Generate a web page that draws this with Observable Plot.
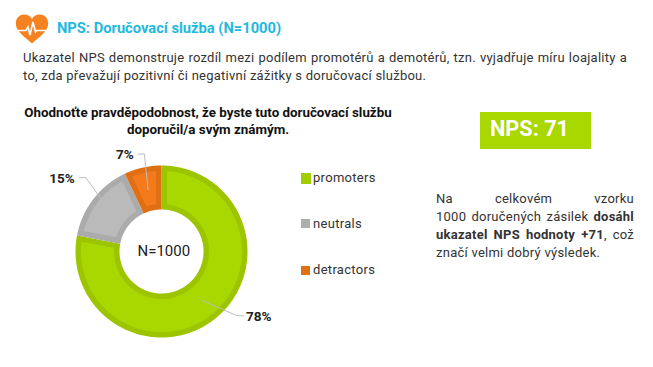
<!DOCTYPE html>
<html><head><meta charset="utf-8">
<script src="https://cdn.jsdelivr.net/npm/d3@7"></script>
<script src="https://cdn.jsdelivr.net/npm/@observablehq/plot@0.6"></script>
<style>
html,body{margin:0;padding:0;background:#fff;width:653px;height:367px;overflow:hidden;font-family:Roboto,sans-serif;color:#333}
.a{position:absolute}
#chart{left:0;top:0}
#chart svg{display:block}
.para{font-size:13px;line-height:18px;letter-spacing:.25px}
.para .l{display:block;white-space:nowrap;text-align:justify;text-align-last:justify}
.para .e{display:block;white-space:nowrap;text-align:left}
</style></head><body>
<div id="chart" class="a"></div>
<svg class="a" style="left:15px;top:14px" width="34" height="30" viewBox="0 0 34 30">
<path d="M17 29.5C12 25 5 20 2 14.5 -1 8 2 1 9 .6 12.5.4 15.5 2 17 5 18.500 2 21.500.4 25 .6 32 1 35 8 32 14.500 29 20 22 25 17 29.500Z" fill="#F58220"/>
<path d="M2.500 16.500H11L13 13 15 21 18 8 20.500 18 22 16.500H31.500" fill="none" stroke="#fff" stroke-width="1.600"/>
</svg>
<div class="a" style="left:57px;top:19px;font-size:14.7px;font-weight:700;color:#1FB9DE;white-space:nowrap">NPS: Doručovací služba (N=1000)</div>
<div class="a para" style="left:23px;top:49px;width:604px"><span class="l">Ukazatel NPS demonstruje rozdíl mezi podílem promotérů a demotérů, tzn. vyjadřuje míru loajality a</span><span class="e">to, zda převažují pozitivní či negativní zážitky s doručovací službou.</span></div>
<div class="a" style="left:0;top:104px;width:416px;text-align:center;font-size:13.35px;font-weight:700;line-height:17px;color:#111;white-space:nowrap">Ohodnoťte pravděpodobnost, že byste tuto doručovací službu<br>doporučil/a svým známým.</div>
<div class="a" style="left:480px;top:112px;width:111px;height:37px;background:#A9D700;color:#fff;font-weight:700;font-size:21.7px;line-height:33px;text-indent:10px">NPS: 71</div>
<div class="a para" style="left:436px;top:190px;width:198px"><span class="l">Na celkovém vzorku</span><span class="l">1000 doručených zásilek <b>dosáhl</b></span><span class="l"><b>ukazatel NPS hodnoty +71</b>, což</span><span class="e">značí velmi dobrý výsledek.</span></div>
<script>
const categories = ["promoters", "neutrals", "detractors"];
const shares = [78, 15, 7];
const labels = ["78%", "15%", "7%"];
const fills = ["#A9D700", "#BABABA", "#F47A1C"];
const strokes = ["#9CC500", "#ABABAB", "#E06F14"];
const swatches = ["#A2CE00", "#AEAEAE", "#E07014"];
const centerLabel = "N=1000";

const W = 653, H = 367, R = 86, hole = 42, band = 5.5, cx = 161, cy = 251;
// Slices as polygons in unit-circle space, derived from the shares
const pie = d3.pie().sort(null).value((d) => d.share)(categories.map((name, i) => ({name, share: shares[i], label: labels[i]})));
const pt = (r, a) => [r * Math.sin(a) / R, r * Math.cos(a) / R];
// inset = width of the border that lies inside the slice, in pixels
function sector(p, inset) {
  const rO = R - inset, rI = hole + inset;
  const a0 = (r) => p.startAngle + Math.asin(inset / r), a1 = (r) => p.endAngle - Math.asin(inset / r);
  const n = Math.ceil((p.endAngle - p.startAngle) * 60);
  const outer = d3.range(n + 1).map((i) => pt(rO, a0(rO) + (a1(rO) - a0(rO)) * i / n));
  const inner = d3.range(n + 1).map((i) => pt(rI, a1(rI) - (a1(rI) - a0(rI)) * i / n));
  return {type: "Feature", properties: {name: p.data.name}, geometry: {type: "Polygon", coordinates: [[...outer, ...inner, outer[0]]]}};
}
const borders = pie.map((p) => sector(p, 0));
const slices = pie.map((p) => sector(p, band));
// Leader lines and labels in unit-circle space
const leaders = [
  {i: 0, path: [[0.478, -0.572], [0.878, -0.747], [0.956, -0.747]], lx: 1.13, ly: -0.76},
  {i: 1, path: [[-0.705, 0.614], [-0.878, 0.858], [-0.956, 0.858]], lx: -1.156, ly: 0.852},
  {i: 2, path: [[-0.156, 0.72], [-0.199, 1.133], [-0.272, 1.133]], lx: -0.426, ly: 1.121}
];
const leaderLines = leaders.map((l) => ({type: "Feature", geometry: {type: "LineString", coordinates: l.path}}));

const plot = Plot.plot({
  width: W, height: H, margin: 0,
  style: {fontFamily: "Roboto, sans-serif", background: "transparent"},
  projection: d3.geoIdentity().reflectY(true).scale(R).translate([cx, cy]),
  color: {domain: categories, range: fills},
  marks: [
    Plot.geo(borders, {fill: {value: (d) => strokes[categories.indexOf(d.properties.name)], scale: null}}),
    Plot.geo(slices, {fill: (d) => d.properties.name}),
    Plot.geo(leaderLines, {stroke: "#BDBDBD", strokeWidth: 1, fill: "none"}),
    Plot.text(leaders, {x: "lx", y: "ly", text: (d) => labels[d.i], fontSize: 13.5, fontWeight: 700, fill: "#222"}),
    Plot.text([centerLabel], {x: [0.027], y: [0], fontSize: 15, fill: "#222"})
  ]
});
document.getElementById("chart").append(plot);

// legend built from the same categories
const swatchTop = [173, 219, 265.5], swatchSize = [10.5, 9, 9], swatchLeft = [300.5, 301, 301], textTop = [170, 216, 262];
categories.forEach((c, i) => {
  const s = document.createElement("div"); s.className = "a";
  s.style.cssText = `left:${swatchLeft[i]}px;top:${swatchTop[i]}px;width:${swatchSize[i]}px;height:${swatchSize[i]}px;background:${swatches[i]}`;
  document.body.append(s);
  const t = document.createElement("div"); t.className = "a";
  t.style.cssText = `left:313px;font-size:13px;line-height:16px;letter-spacing:.3px;color:#333;top:${textTop[i]}px`;
  t.textContent = c;
  document.body.append(t);
});
</script>
</body></html>
